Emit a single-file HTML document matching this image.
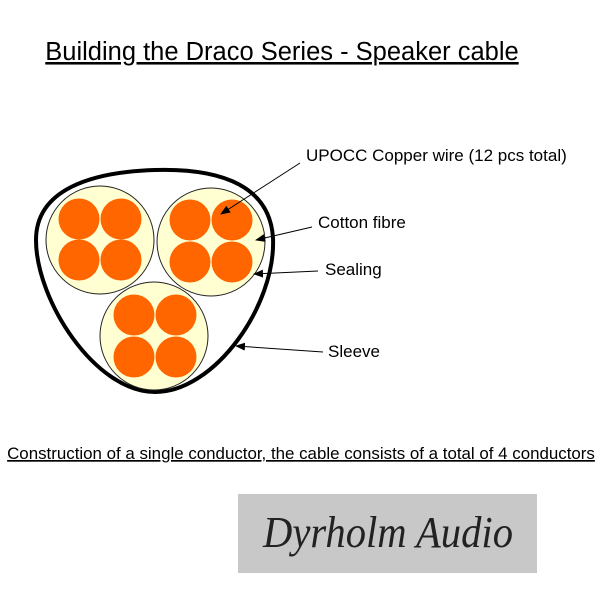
<!DOCTYPE html>
<html><head><style>
body{margin:0;width:600px;height:600px;background:#fff;overflow:hidden;font-family:"Liberation Sans",sans-serif}
</style></head><body>
<svg width="600" height="600" xmlns="http://www.w3.org/2000/svg">
<defs><marker id="a" markerWidth="10" markerHeight="8" refX="9" refY="4" orient="auto" markerUnits="userSpaceOnUse"><path d="M0,0 L10,4 L0,8 z" fill="#000"/></marker></defs>
<text x="282" y="60" font-size="25.5" text-anchor="middle" text-decoration="underline" fill="#000">Building the Draco Series - Speaker cable</text>
<path d="M155,170 C225,168 270,188 273,238 C276,305 215,392 155,392 C95,392 36,300 36,240 C36,190 90,172 155,170 Z" fill="none" stroke="#000" stroke-width="4"/>
<g stroke="#222" stroke-width="1" fill="#ffffd2">
<circle cx="100" cy="240" r="54"/><circle cx="211" cy="242" r="54"/><circle cx="154" cy="336" r="54"/>
</g>
<g fill="#ff6600">
<circle cx="79" cy="219" r="20.5"/><circle cx="121" cy="219" r="20.5"/><circle cx="79" cy="260" r="20.5"/><circle cx="121" cy="260" r="20.5"/>
<circle cx="190" cy="220" r="20.5"/><circle cx="232" cy="220" r="20.5"/><circle cx="190" cy="262" r="20.5"/><circle cx="232" cy="262" r="20.5"/>
<circle cx="134" cy="315" r="20.5"/><circle cx="176" cy="315" r="20.5"/><circle cx="134" cy="357" r="20.5"/><circle cx="176" cy="357" r="20.5"/>
</g>
<g stroke="#000" stroke-width="1" marker-end="url(#a)">
<line x1="300" y1="163" x2="221" y2="214"/>
<line x1="312" y1="227" x2="256" y2="240"/>
<line x1="318" y1="271" x2="254" y2="274"/>
<line x1="323" y1="352" x2="236" y2="346"/>
</g>
<g font-size="17" fill="#000">
<text x="306" y="161">UPOCC Copper wire (12 pcs total)</text>
<text x="318" y="228">Cotton fibre</text>
<text x="325" y="275">Sealing</text>
<text x="328" y="357">Sleeve</text>
</g>
<text x="301" y="459" font-size="16.9" text-anchor="middle" text-decoration="underline" fill="#000">Construction of a single conductor, the cable consists of a total of 4 conductors</text>
<rect x="238" y="494" width="299" height="79" fill="#c8c8c8"/>
<text x="388" y="547" font-size="44" font-style="italic" text-anchor="middle" fill="#222" font-family="'Liberation Serif',serif" textLength="250" lengthAdjust="spacingAndGlyphs">Dyrholm Audio</text>
</svg>
</body></html>
